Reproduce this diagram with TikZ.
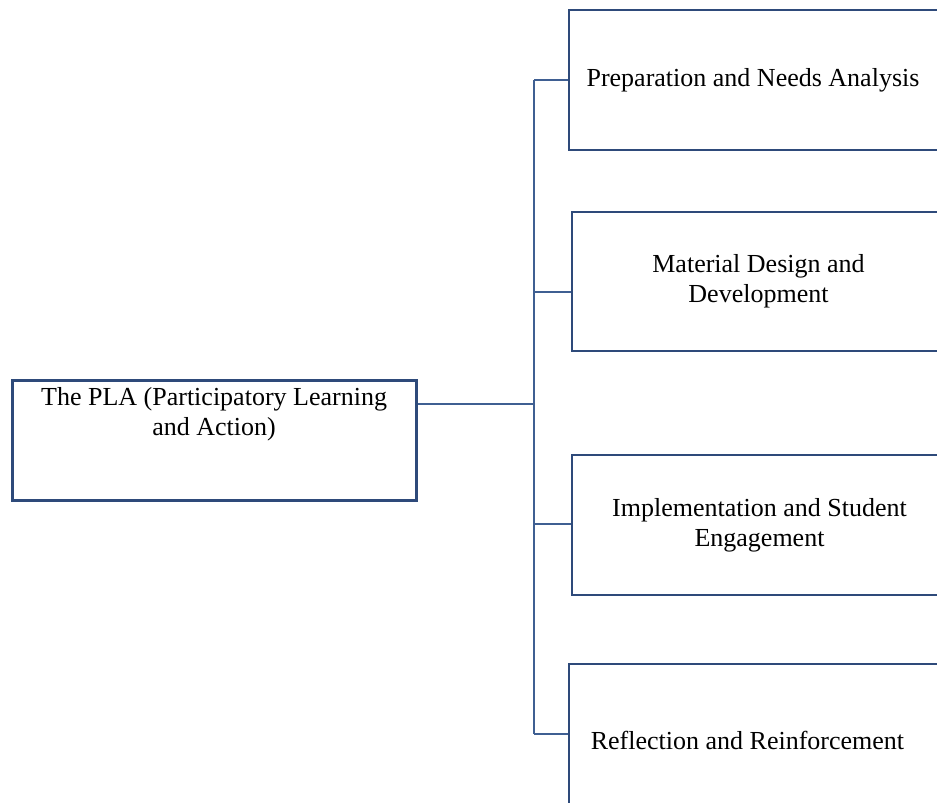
\documentclass[tikz,border=0pt]{standalone}
\usepackage{fontspec}
\setmainfont{Liberation Serif}
\definecolor{boxblue}{HTML}{2E4A7A}
\definecolor{lineblue}{HTML}{3F5F92}
\begin{document}
\begin{tikzpicture}[x=1pt,y=-1pt,
  every node/.style={font=\fontsize{26}{30}\selectfont},
  stagebox/.style={draw=boxblue, line width=2.8pt, fill=white, inner sep=4pt, align=center},
  link/.style={draw=lineblue, line width=1.4pt}]
\useasboundingbox (0,0) rectangle (937,803);
\clip (0,0) rectangle (937,803);

% root box
\node[stagebox, minimum width=404, minimum height=120, anchor=north west] (pla) at (10.7,379)
  {\parbox[c][112pt][t]{396pt}{\centering\strut The PLA (Participatory Learning\\and Action)}};

% stage boxes (right edges run past the page)
\node[stagebox, minimum width=391, minimum height=140] (b1) at (764.5,80)
  {Preparation and Needs Analysis\hspace*{23pt}};
\node[stagebox, minimum width=388, minimum height=139] (b2) at (766,281.5)
  {\begin{tabular}{@{}c@{}}Material Design and\\Development\end{tabular}\hspace*{15pt}};
\node[stagebox, minimum width=388, minimum height=140] (b3) at (766,525)
  {\begin{tabular}{@{}c@{}}Implementation and Student\\Engagement\end{tabular}\hspace*{13pt}};
\node[stagebox, minimum width=391, minimum height=152] (b4) at (764.5,740)
  {Reflection and Reinforcement\hspace*{34pt}};

% trunk points
\coordinate (t1) at (534,80);
\coordinate (t2) at (534,292);
\coordinate (t3) at (534,524);
\coordinate (t4) at (534,734);
\coordinate (t0) at (534,404);

\draw[link] (t1) -- (t4);
\draw[link] (t0) -- (t0 -| pla.east);
\draw[link] (t1) -- (t1 -| b1.west);
\draw[link] (t2) -- (t2 -| b2.west);
\draw[link] (t3) -- (t3 -| b3.west);
\draw[link] (t4) -- (t4 -| b4.west);
\end{tikzpicture}
\end{document}
